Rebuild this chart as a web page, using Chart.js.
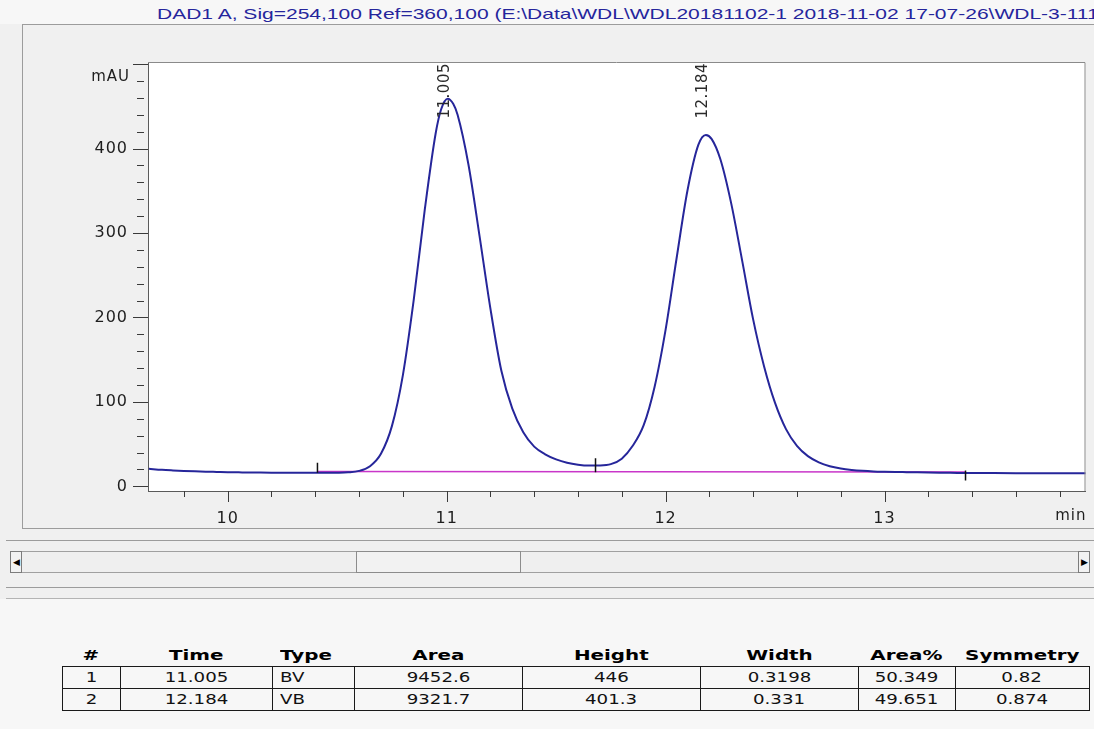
<!DOCTYPE html>
<html>
<head>
<meta charset="utf-8">
<script src="https://cdn.jsdelivr.net/npm/chart.js@4.4.1/dist/chart.umd.min.js"></script>
<style>
  html, body { margin: 0; padding: 0; width: 1094px; height: 729px; overflow: hidden; background: #f0f0f0; font-family: "Liberation Sans", Arial, sans-serif; }
  .abs { position: absolute; }
  #title { left: 0; top: 0; width: 1094px; height: 24px; background: #f7f7f7; overflow: hidden; white-space: nowrap; }
  #title span { position: absolute; left: 157px; top: 5px; font-size: 15px; color: #25259c; transform: scaleX(1.4); transform-origin: 0 0; }
  #frame { left: 22px; top: 24px; width: 1080px; height: 503px; border-top: 1px solid #9c9c9c; border-left: 1px solid #9c9c9c; border-bottom: 1px solid #9c9c9c; }
  #plot { left: 23px; top: 25px; }
  .hline { position: absolute; left: 6px; width: 1088px; height: 1px; background: #9c9c9c; }
  #scroll { left: 10px; top: 551px; width: 1080px; height: 22px; border: 1px solid #a0a0a0; background: #efefef; box-sizing: border-box; }
  .sbtn { position: absolute; top: -1px; width: 12px; height: 22px; border: 1px solid #7c7c7c; box-sizing: border-box; background: #f2f2f2; font-size: 9px; line-height: 20px; text-align: center; color: #000; }
  #thumb { position: absolute; left: 345px; top: -1px; width: 165px; height: 22px; border: 1px solid #8c8c8c; box-sizing: border-box; background: #f2f2f2; }
  #lower { left: 0; top: 599px; width: 1094px; height: 130px; background: #f7f7f7; }
  .cell { position: absolute; height: 22px; line-height: 22px; font-family: "DejaVu Sans", Verdana, sans-serif; font-size: 14px; color: #111; white-space: nowrap; }
  .cell span { display: inline-block; transform: scaleX(1.3); }
  .hd { font-weight: bold; color: #000; }
  .hd span { transform: scaleX(1.42); }
  .grid { position: absolute; background: #1a1a1a; }
</style>
</head>
<body>
<div id="title" class="abs"><span>DAD1 A, Sig=254,100 Ref=360,100 (E:\Data\WDL\WDL20181102-1 2018-11-02 17-07-26\WDL-3-111.D)</span></div>
<div id="frame" class="abs"></div>
<canvas id="plot" class="abs" width="1071" height="502"></canvas>
<div class="hline" style="top:540px"></div>
<div id="scroll" class="abs">
  <div class="sbtn" style="left:-1px">&#9664;</div>
  <div id="thumb"></div>
  <div class="sbtn" style="right:-1px">&#9654;</div>
</div>
<div class="hline" style="top:587px"></div>
<div id="lower" class="abs"></div>
<div class="hline" style="top:598px; background:#b4b4b4"></div>
<div id="table"></div>

<script>
// Chromatogram trace: retention time (min) and detector response (mAU)
const retentionTimes = [
  9.64, 9.70, 9.75, 9.80, 9.85, 9.90, 9.95, 10.00, 10.05, 10.10,
  10.15, 10.20, 10.25, 10.30, 10.35, 10.40, 10.45, 10.50, 10.55, 10.60,
  10.65, 10.70, 10.75, 10.80, 10.85, 10.90, 10.95, 10.975, 11.005, 11.03,
  11.05, 11.10, 11.15, 11.20, 11.25, 11.30, 11.35, 11.40, 11.45, 11.50,
  11.55, 11.60, 11.65, 11.70, 11.75, 11.80, 11.85, 11.90, 11.95, 12.00,
  12.05, 12.10, 12.15, 12.184, 12.21, 12.25, 12.30, 12.35, 12.40, 12.45,
  12.50, 12.55, 12.60, 12.65, 12.70, 12.75, 12.80, 12.85, 12.90, 12.95,
  13.00, 13.05, 13.10, 13.15, 13.20, 13.25, 13.30, 13.35, 13.40, 13.50,
  13.60, 13.70, 13.80, 13.92
];
const absorbance = [
  20.8, 19.6, 18.9, 18.3, 17.8, 17.4, 17.1, 16.8, 16.6, 16.4,
  16.3, 16.2, 16.1, 16.0, 16.0, 16.0, 16.0, 16.1, 16.6, 18.3,
  23.9, 38.6, 71.3, 131.4, 221.3, 327.3, 418.1, 446.5, 459.0, 453.0,
  440.0, 380.5, 297.0, 210.5, 136.8, 92.0, 64.0, 47.0, 38.0, 32.0,
  28.0, 25.7, 24.7, 24.8, 26.3, 32.8, 48.0, 72.4, 118.0, 185.3,
  269.5, 350.3, 404.6, 416.2, 411.5, 387.6, 334.8, 267.0, 197.7, 142.0,
  98.8, 67.8, 47.9, 35.8, 28.5, 23.9, 21.2, 19.5, 18.4, 17.7,
  17.3, 17.0, 16.8, 16.6, 16.4, 16.2, 16.0, 15.9, 15.8, 15.7,
  15.6, 15.5, 15.4, 15.4
];

// Integration baseline and peak start/valley/end markers
const baselineTimes = [10.41, 13.37];
const baselineValues = [17.6, 17.0];
const markerTimes = [10.41, 11.68, 13.37];
const markerValues = [22, 25, 13];

// Peak retention-time labels
const peakTimes = [11.005, 12.184];
const peakLabels = ['11.005', '12.184'];

// Axis ticks
const xMajorTicks = [10, 11, 12, 13];
const yMajorTicks = [0, 100, 200, 300, 400];
const xMinorStep = 0.2;
const yMinorStep = 20;

// Peak table
const tableHeaders = ['#', 'Time', 'Type', 'Area', 'Height', 'Width', 'Area%', 'Symmetry'];
const peakNumbers = ['1', '2'];
const peakTimeText = ['11.005', '12.184'];
const peakTypes = ['BV', 'VB'];
const peakAreas = ['9452.6', '9321.7'];
const peakHeights = ['446', '401.3'];
const peakWidths = ['0.3198', '0.331'];
const peakAreaPct = ['50.349', '49.651'];
const peakSymmetry = ['0.82', '0.874'];

const toPoints = (xs, ys) => xs.map((x, i) => ({ x, y: ys[i] }));

const chromFrame = {
  id: 'chromFrame',
  beforeDraw(chart) {
    const { ctx, chartArea: a } = chart;
    ctx.save();
    ctx.fillStyle = '#ffffff';
    ctx.fillRect(a.left, a.top, a.right - a.left, a.bottom - a.top);
    ctx.restore();
    ctx.letterSpacing = '1px';
  },
  afterDatasetsDraw(chart) {
    const { ctx, chartArea: a, scales: { x } } = chart;
    ctx.save();
    ctx.letterSpacing = '0.5px';
    ctx.font = '15px "DejaVu Sans"';
    ctx.fillStyle = '#2a2a2a';
    ctx.textAlign = 'right';
    ctx.textBaseline = 'middle';
    peakTimes.forEach((t, i) => {
      ctx.save();
      ctx.translate(x.getPixelForValue(t) - 3, a.top + 1);
      ctx.rotate(-Math.PI / 2);
      ctx.fillText(peakLabels[i], 0, 0);
      ctx.restore();
    });
    ctx.restore();
  },
  afterDraw(chart) {
    const { ctx, chartArea: a, scales: { x, y } } = chart;
    ctx.save();
    ctx.letterSpacing = '0px';
    ctx.strokeStyle = '#8a8a8a';
    ctx.lineWidth = 1;
    ctx.beginPath();
    ctx.moveTo(a.left, a.top + 0.5);
    ctx.lineTo(a.right - 0.5, a.top + 0.5);
    ctx.lineTo(a.right - 0.5, a.bottom);
    ctx.stroke();

    ctx.strokeStyle = '#3a3a3a';
    ctx.beginPath();
    for (let k = Math.ceil(y.min / yMinorStep); k * yMinorStep <= y.max; k++) {
      const v = k * yMinorStep;
      const py = Math.round(y.getPixelForValue(v)) + 0.5;
      if (v % 100 === 0 || v === 500) { ctx.moveTo(a.left - 15, py); ctx.lineTo(a.left, py); }
      else { ctx.moveTo(a.left - 11, py); ctx.lineTo(a.left - 4, py); }
    }
    for (let k = Math.ceil(x.min / xMinorStep); k * xMinorStep <= x.max + 1e-9; k++) {
      const v = Math.round(k * xMinorStep * 10) / 10;
      const px = Math.round(x.getPixelForValue(v)) + 0.5;
      const major = Math.abs(v - Math.round(v)) < 1e-6;
      ctx.moveTo(px, a.bottom); ctx.lineTo(px, a.bottom + (major ? 11 : 6));
    }
    ctx.stroke();

    ctx.font = '15px "DejaVu Sans"';
    ctx.fillStyle = '#1e1e1e';
    ctx.letterSpacing = '1px';
    ctx.textAlign = 'right';
    ctx.textBaseline = 'middle';
    ctx.fillText('mAU', a.left - 18, y.getPixelForValue(485));
    ctx.textBaseline = 'top';
    ctx.fillText('min', a.right + 1, a.bottom + 18);
    ctx.restore();
  }
};

new Chart(document.getElementById('plot'), {
  type: 'line',
  data: {
    datasets: [
      {
        label: 'Signal',
        data: toPoints(retentionTimes, absorbance),
        borderColor: '#26269a',
        borderWidth: 2,
        pointRadius: 0,
        cubicInterpolationMode: 'monotone',
        order: 1
      },
      {
        label: 'Baseline',
        data: toPoints(baselineTimes, baselineValues),
        borderColor: '#c936c9',
        borderWidth: 1.5,
        pointRadius: 0,
        order: 2
      },
      {
        type: 'scatter',
        label: 'Peak limits',
        data: toPoints(markerTimes, markerValues),
        pointStyle: 'line',
        rotation: 90,
        pointRadius: [5, 7, 5],
        borderColor: '#111111',
        borderWidth: 1.5,
        order: 0
      }
    ]
  },
  options: {
    responsive: false,
    animation: false,
    devicePixelRatio: 1,
    layout: { padding: { left: 0, top: 37, right: 4, bottom: 0 } },
    plugins: { legend: { display: false }, tooltip: { enabled: false } },
    scales: {
      x: {
        type: 'linear',
        min: 9.636,
        max: 13.918,
        grid: { display: false, drawTicks: false },
        border: { display: true, color: '#5a5a5a', width: 1 },
        afterBuildTicks: s => { s.ticks = xMajorTicks.map(v => ({ value: v })); },
        afterFit: s => { s.height = 36; },
        ticks: { padding: 18, color: '#1e1e1e', font: { family: 'DejaVu Sans', size: 16 }, callback: v => String(v) }
      },
      y: {
        type: 'linear',
        min: -5.5,
        max: 502.5,
        grid: { display: false, drawTicks: false },
        border: { display: true, color: '#5a5a5a', width: 1 },
        afterBuildTicks: s => { s.ticks = yMajorTicks.map(v => ({ value: v })); },
        afterFit: s => { s.width = 125; },
        ticks: { padding: 20, color: '#1e1e1e', font: { family: 'DejaVu Sans', size: 16 }, callback: v => String(v) }
      }
    }
  },
  plugins: [chromFrame]
});

// Peak table below the plot
(function buildTable() {
  const host = document.getElementById('table');
  const colEdges = [62, 120, 272, 354, 522, 700, 858, 955, 1089];
  const align = ['center', 'center', 'left', 'center', 'center', 'center', 'center', 'center'];
  const headerTop = 644;
  const rowTop = 666;
  const rowH = 22;
  const rows = peakNumbers.map((n, i) => [n, peakTimeText[i], peakTypes[i], peakAreas[i], peakHeights[i], peakWidths[i], peakAreaPct[i], peakSymmetry[i]]);

  const addCell = (text, c, top, bold) => {
    const d = document.createElement('div');
    d.className = 'cell' + (bold ? ' hd' : '');
    const left = colEdges[c], w = colEdges[c + 1] - colEdges[c];
    d.style.left = left + 'px';
    d.style.top = top + 'px';
    d.style.width = w + 'px';
    d.style.textAlign = align[c];
    const s = document.createElement('span');
    s.textContent = text;
    if (align[c] === 'left') { d.style.paddingLeft = '8px'; d.style.width = (w - 8) + 'px'; s.style.transformOrigin = '0 50%'; }
    d.appendChild(s);
    host.appendChild(d);
  };
  tableHeaders.forEach((h, c) => addCell(h, c, headerTop, true));
  rows.forEach((r, i) => r.forEach((t, c) => addCell(t, c, rowTop + i * rowH, false)));

  const addLine = (l, t, w, h) => {
    const g = document.createElement('div');
    g.className = 'grid';
    g.style.left = l + 'px'; g.style.top = t + 'px'; g.style.width = w + 'px'; g.style.height = h + 'px';
    host.appendChild(g);
  };
  const right = colEdges[colEdges.length - 1];
  for (let r = 0; r <= rows.length; r++) addLine(colEdges[0], rowTop + r * rowH, right - colEdges[0] + 1, 1);
  colEdges.forEach(x => addLine(x, rowTop, 1, rows.length * rowH + 1));
})();
</script>
</body>
</html>
